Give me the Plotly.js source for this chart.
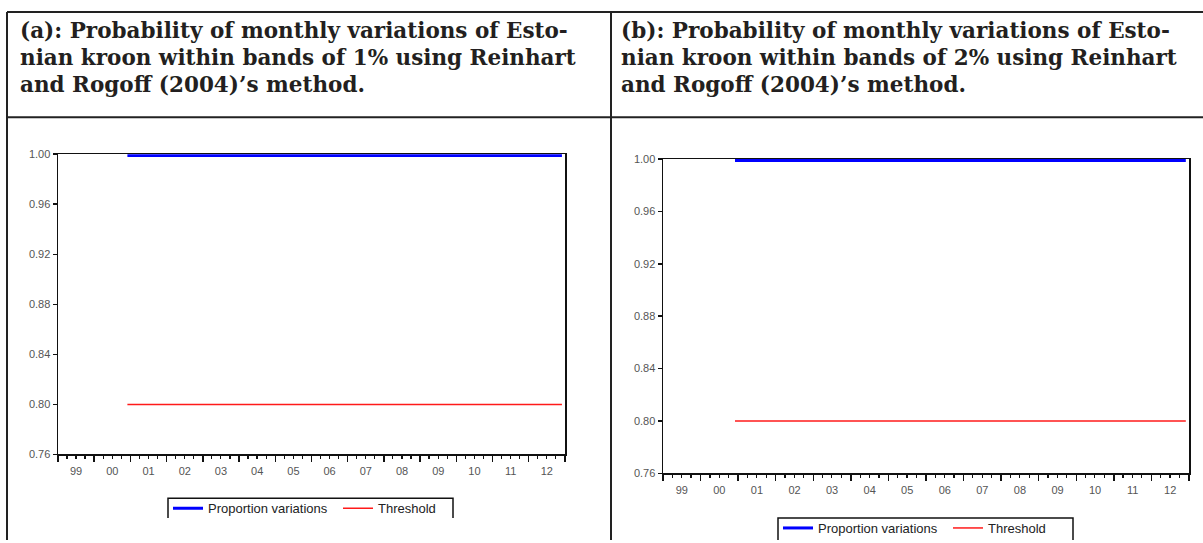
<!DOCTYPE html>
<html>
<head>
<meta charset="utf-8">
<script src="https://cdn.plot.ly/plotly-3.0.1.min.js"></script>
<style>
html,body{margin:0;padding:0;background:#fff;width:1203px;height:543px;overflow:hidden;}
#chart{width:1203px;height:543px;overflow:hidden;position:absolute;left:0;top:0;}
</style>
</head>
<body>
<div id="chart"></div>
<script>
// ---- data ----
const titleLinesA = [
  "(a): Probability of monthly variations of Esto-",
  "nian kroon within bands of 1% using Reinhart",
  "and Rogoff (2004)\u2019s method."
];
const titleLinesB = [
  "(b): Probability of monthly variations of Esto-",
  "nian kroon within bands of 2% using Reinhart",
  "and Rogoff (2004)\u2019s method."
];
const seriesNames = ["Proportion variations", "Threshold"];
const dates = ["2000-12-01", "2012-12-01"];           // monthly sample 2000M12 - 2012M12
const proportionA = [0.999, 0.999];                    // band 1%
const thresholdA  = [0.80, 0.80];
const proportionB = [0.999, 0.999];                    // band 2%
const thresholdB  = [0.80, 0.80];
const xRange = ["1999-01-01", "2013-01-01"];
const yRange = [0.76, 1.00];

const W = 1203, H = 543;
const px = v => v / W;
const py = v => 1 - v / H;

const blue = "#0000ff", red = "#ff1a1a";

const traces = [
  {x: dates, y: proportionA, name: seriesNames[0], mode: "lines", line: {color: blue, width: 3}, xaxis: "x", yaxis: "y", legend: "legend"},
  {x: dates, y: thresholdA, name: seriesNames[1], mode: "lines", line: {color: red, width: 1.5}, xaxis: "x", yaxis: "y", legend: "legend"},
  {x: dates, y: proportionB, name: seriesNames[0], mode: "lines", line: {color: blue, width: 3}, xaxis: "x2", yaxis: "y2", legend: "legend2"},
  {x: dates, y: thresholdB, name: seriesNames[1], mode: "lines", line: {color: red, width: 1.5}, xaxis: "x2", yaxis: "y2", legend: "legend2"}
];

const tickFont = {family: "Liberation Sans, Arial, sans-serif", size: 11, color: "#555"};

function xAxis(domain, anchor) {
  return {
    domain: domain, anchor: anchor, type: "date", range: xRange,
    showline: true, linecolor: "#111", linewidth: 1.5, mirror: true,
    showgrid: false, zeroline: false,
    ticks: "outside", ticklen: 6, tickwidth: 1.5, tickcolor: "#111",
    tick0: "1999-01-01", dtick: "M12", tickformat: "%y", ticklabelmode: "period",
    minor: {dtick: "M3", ticks: "outside", ticklen: 3, tickwidth: 1.2, tickcolor: "#111", showgrid: false},
    tickfont: tickFont, fixedrange: true
  };
}
function yAxis(domain, anchor) {
  return {
    domain: domain, anchor: anchor, range: yRange,
    showline: true, linecolor: "#111", linewidth: 1.5, mirror: true,
    showgrid: false, zeroline: false,
    ticks: "outside", ticklen: 4, tickwidth: 1.5, tickcolor: "#111",
    tick0: 0.76, dtick: 0.04, tickformat: ".2f",
    tickfont: tickFont, fixedrange: true
  };
}

const border = {color: "#222", width: 2};
const legBox = {color: "#111", width: 1.5};
const shapes = [
  {type: "line", xref: "paper", yref: "paper", x0: px(7), x1: 1, y0: py(12), y1: py(12), line: border},
  {type: "line", xref: "paper", yref: "paper", x0: px(7), x1: 1, y0: py(118), y1: py(118), line: border},
  {type: "line", xref: "paper", yref: "paper", x0: px(7), x1: px(7), y0: py(12), y1: 0, line: border},
  {type: "line", xref: "paper", yref: "paper", x0: px(611), x1: px(611), y0: py(12), y1: 0, line: border},
  // legend frames (open at the bottom, as in the reference)
  {type: "path", xref: "paper", yref: "paper",
   path: `M ${px(168)} ${py(521)} L ${px(168)} ${py(501)} L ${px(453)} ${py(501)} L ${px(453)} ${py(521)}`, line: legBox},
  {type: "path", xref: "paper", yref: "paper",
   path: `M ${px(778)} ${py(543)} L ${px(778)} ${py(521)} L ${px(1073)} ${py(521)} L ${px(1073)} ${py(543)}`, line: legBox}
];

const titleFont = {family: "DejaVu Serif, serif", size: 21.5, color: "#231f20"};
const lineY = [31, 58, 85];
const annotations = [];
titleLinesA.forEach((t, i) => annotations.push({xref: "paper", yref: "paper", x: px(18), y: py(lineY[i]),
  xanchor: "left", yanchor: "middle", align: "left", text: "<b>" + t + "</b>", showarrow: false, font: titleFont}));
titleLinesB.forEach((t, i) => annotations.push({xref: "paper", yref: "paper", x: px(619), y: py(lineY[i]),
  xanchor: "left", yanchor: "middle", align: "left", text: "<b>" + t + "</b>", showarrow: false, font: titleFont}));

const legendBase = {
  orientation: "h", bgcolor: "rgba(0,0,0,0)", borderwidth: 0,
  font: {family: "Liberation Sans, Arial, sans-serif", size: 13, color: "#222"},
  xanchor: "left", yanchor: "top", entrywidth: 125, entrywidthmode: "pixels", tracegroupgap: 0
};

const layout = {
  width: W, height: H,
  margin: {l: 0, r: 0, t: 0, b: 0},
  paper_bgcolor: "#fff", plot_bgcolor: "#fff",
  showlegend: true,
  xaxis: xAxis([px(58), px(565)], "y"),
  yaxis: yAxis([py(457), py(155)], "x"),
  xaxis2: xAxis([px(663), px(1189)], "y2"),
  yaxis2: yAxis([py(476), py(160)], "x2"),
  legend: Object.assign({}, legendBase, {x: px(168), y: py(496)}),
  legend2: Object.assign({}, legendBase, {x: px(778), y: py(516)}),
  shapes: shapes,
  annotations: annotations
};

Plotly.newPlot("chart", traces, layout, {staticPlot: true, displayModeBar: false});
</script>
</body>
</html>
